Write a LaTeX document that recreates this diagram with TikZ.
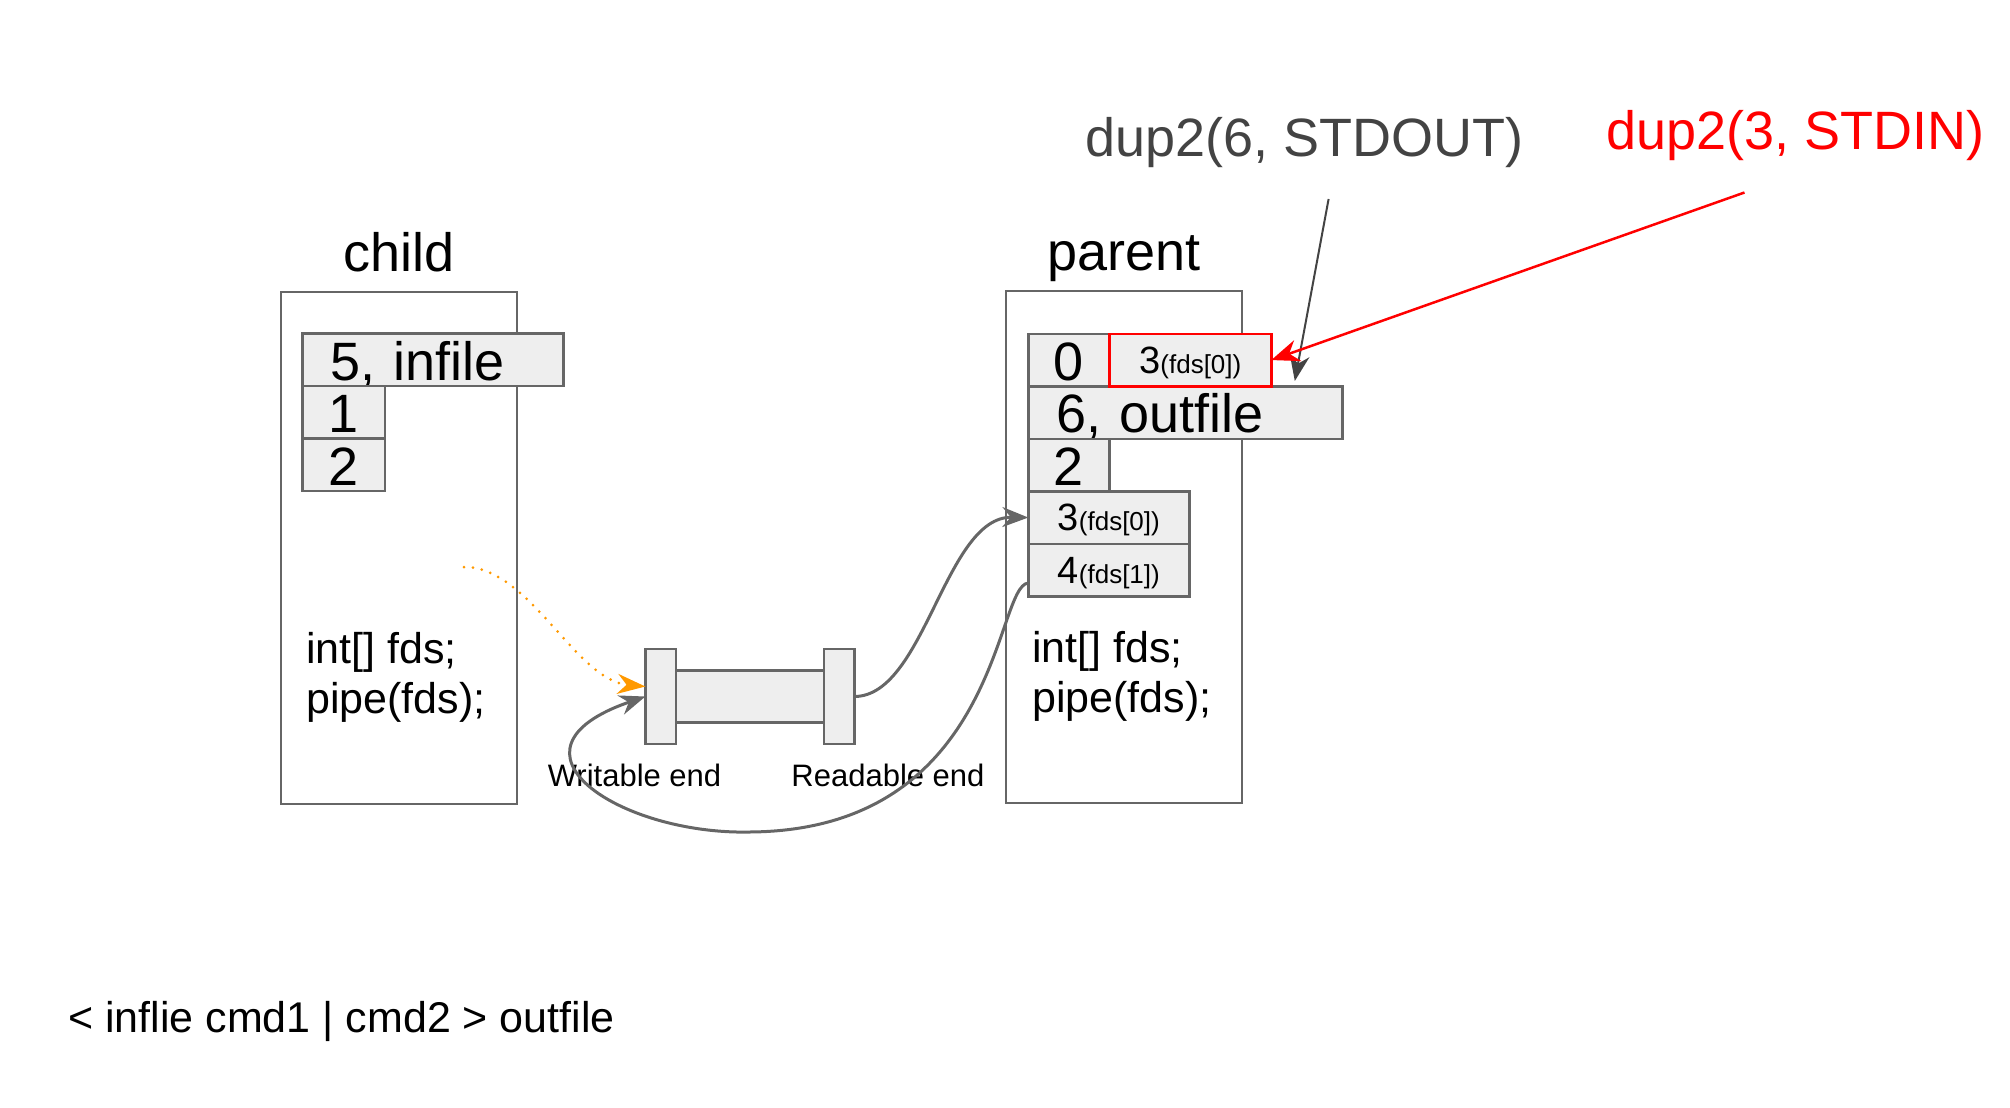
\documentclass[tikz,border=0pt]{standalone}
\usepackage{fontspec}
\setmainfont{Liberation Sans}
\usepackage{tikz}
\usetikzlibrary{arrows.meta,positioning}

\definecolor{linegray}{HTML}{666666}
\definecolor{cellgray}{HTML}{EEEEEE}
\definecolor{dupgray}{HTML}{434343}
\definecolor{pipeorange}{HTML}{FF9900}
\newcommand{\fdsub}[1]{{\fontsize{13pt}{15pt}\selectfont#1}}

\begin{document}
\begin{tikzpicture}
		[x=0.5pt,y=-0.5pt,
		big/.style={font=\fontsize{27pt}{32pt}\selectfont},
		proc/.style={draw=linegray,line width=1pt,minimum width=118pt,minimum height=256pt,anchor=north west,inner sep=0pt,outer sep=0pt},
		fd/.style={draw=linegray,fill=cellgray,line width=1.2pt,minimum height=26.25pt,inner sep=0pt,outer sep=0pt,text height=23.25pt,text depth=3pt,big},
		widefd/.style={fd,align=left,inner xsep=14pt},
		smallfd/.style={fd,text height=19.75pt,text depth=6.5pt,font=\fontsize{19pt}{22pt}\selectfont},
		flange/.style={draw=linegray,fill=cellgray,line width=1.2pt,minimum width=15.3pt,minimum height=47.5pt,inner sep=0pt,outer sep=0pt},
		code/.style={font=\fontsize{21.5pt}{25pt}\selectfont,align=left,inner sep=0pt},
		endlabel/.style={font=\fontsize{15.5pt}{18pt}\selectfont,inner sep=0pt,anchor=base},
		link/.style={draw=linegray,line width=1.5pt,-{Stealth[length=13pt,width=10pt]}}]
		\useasboundingbox (0,0) rectangle (2010,1108);
		
		\node[proc] (child) at (280.6,292) {};
		\node[big,anchor=base,inner sep=0pt] (childname) at ([yshift=10.35pt]child.north) {child};
		\node[proc] (parent) at (1006.1,291.4) {};
		\node[big,anchor=base,inner sep=0pt] (parentname) at ([yshift=10.35pt]parent.north) {parent};
		
		\node[widefd,text width=102.5pt,anchor=north west] (c0) at (302.6,333.5) {5, infile};
		\node[fd,minimum width=41.25pt,below=0pt of c0.south west,anchor=north west] (c1) {1};
		\node[fd,minimum width=41.25pt,below=0pt of c1.south west,anchor=north west] (c2) {2};
		
		\node[fd,minimum width=40.5pt,anchor=north west] (p0) at (1028.3,333.8) {0};
		\node[widefd,text width=129pt,below=0pt of p0.south west,anchor=north west] (p1) {6, outfile};
		\node[fd,minimum width=40.5pt,below=0pt of p1.south west,anchor=north west] (p2) {2};
		\node[smallfd,minimum width=80.5pt,below=0pt of p2.south west,anchor=north west] (p3) {3\fdsub{(fds[0])}};
		\node[smallfd,minimum width=80.5pt,below=0pt of p3.south west,anchor=north west] (p4) {4\fdsub{(fds[1])}};
		\node[smallfd,draw=red,minimum width=81pt,anchor=north west] (pr) at (p0.north east) {3\fdsub{(fds[0])}};
		
		\node[code,anchor=base west] (childcode) at (306,713) {int[] fds;\\pipe(fds);};
		\node[code,anchor=base west] (parentcode) at (1031.7,712) {int[] fds;\\pipe(fds);};
		
		\node[flange] (wend) at (660.7,696.5) {};
		\node[draw=linegray,fill=cellgray,line width=1.2pt,minimum width=74pt,minimum height=26pt,inner sep=0pt,outer sep=0pt,right=0pt of wend] (tube) {};
		\node[flange,right=0pt of tube] (rend) {};
		\node[endlabel] (wlabel) at (634.5,786.6) {Writable end};
		\node[endlabel] (rlabel) at (888,786.6) {Readable end};
		
		\coordinate (dotstart) at (464,567);
		\draw[pipeorange,line width=1.5pt,line cap=round,dash pattern=on 0pt off 4.5pt,-{Stealth[length=14pt,width=10pt]}] (dotstart) .. controls (530,567) and (575,680) .. ([yshift=5pt]wend.west);
		\draw[link] (rend.east) .. controls (925,696) and (945,516) .. (p3.west);
		\draw[link] ([yshift=-6.5pt]p4.west) .. controls (995,585) and (1000,830) .. (750,832) .. controls (620,835) and (490,750) .. (wend.west);
		
		\node[big,text=dupgray,anchor=base west,inner sep=0pt] (dupout) at (1085.2,156.8) {dup2(6, STDOUT)};
		\node[big,text=red,anchor=base west,inner sep=0pt] (dupin) at (1605.8,149.6) {dup2(3, STDIN)};
		\coordinate (outfrom) at (1328.6,199);
		\coordinate (outto) at (1294.8,381);
		\coordinate (infrom) at (1744.5,192.5);
		\draw[dupgray,line width=1pt,-{Stealth[length=13pt,width=10pt]}] (outfrom) -- (outto);
		\draw[red,line width=1.25pt,-{Stealth[length=14pt,width=11pt]}] (infrom) -- (pr.east);
		
		\node[code,anchor=base west] (cmdline) at (67.8,1032) {< inflie cmd1 | cmd2 > outfile};
\end{tikzpicture}
\end{document}
